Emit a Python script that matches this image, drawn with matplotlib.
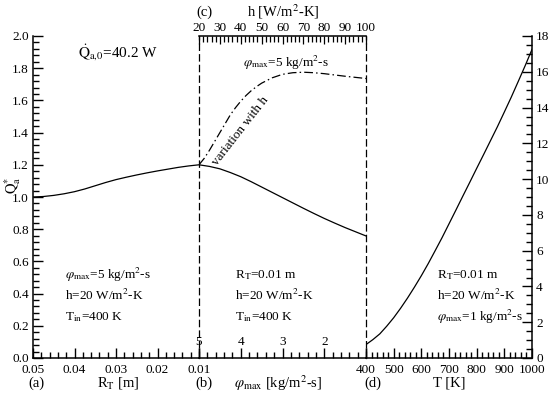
import matplotlib
matplotlib.use("Agg")
import matplotlib.pyplot as plt
from matplotlib.ticker import MultipleLocator, FixedLocator, FixedFormatter, FormatStrFormatter

plt.rcParams['font.family'] = ['Liberation Serif', 'DejaVu Serif']
plt.rcParams['mathtext.fontset'] = 'stix'
plt.rcParams['font.size'] = 9.5

# ---- data ----
# (a) Q* vs tube radius R_T
rt_vals = [0.05, 0.0475, 0.045, 0.0425, 0.04, 0.0375, 0.035, 0.0325, 0.03,
           0.0275, 0.025, 0.0225, 0.02, 0.0175, 0.015, 0.0125, 0.01]
q_rt = [1.0, 1.003, 1.01, 1.02, 1.033, 1.05, 1.07, 1.09, 1.108,
        1.123, 1.137, 1.15, 1.162, 1.173, 1.184, 1.193, 1.2]
# (b) Q* vs phi_max
phi_vals = [5, 4.75, 4.5, 4.25, 4, 3.75, 3.5, 3.25, 3, 2.75, 2.5, 2.25, 2, 1.75, 1.5, 1.25, 1]
q_phi = [1.2, 1.19, 1.175, 1.152, 1.126, 1.095, 1.062, 1.029, 0.996, 0.963,
         0.93, 0.898, 0.867, 0.838, 0.81, 0.784, 0.758]
# (c) Q* vs h (phi_max = 5)
h_vals = [20, 22.5, 25, 27.5, 30, 32.5, 35, 37.5, 40, 42.5, 45, 47.5, 50,
          55, 60, 65, 70, 75, 80, 85, 90, 95, 100]
q_h = [1.2, 1.24, 1.29, 1.345, 1.40, 1.455, 1.51, 1.555, 1.595, 1.63, 1.66, 1.685, 1.707,
       1.74, 1.762, 1.772, 1.775, 1.772, 1.766, 1.758, 1.75, 1.743, 1.736]
# (d) Q* vs inlet temperature T
t_vals = [400, 425, 450, 475, 500, 525, 550, 575, 600, 625, 650, 675, 700,
          725, 750, 775, 800, 825, 850, 875, 900, 925, 950, 975, 1000]
q_t = [0.75, 1.03, 1.35, 1.78, 2.25, 2.78, 3.35, 3.96, 4.6, 5.28, 6.0, 6.73, 7.5,
       8.27, 9.05, 9.82, 10.6, 11.37, 12.15, 12.93, 13.75, 14.58, 15.45, 16.33, 17.25]

phi_ticks = [5, 4, 3, 2, 1]
phi_labels = ['5', '4', '3', '2', '']

W, H = 550, 393
fig = plt.figure(figsize=(W / 100, H / 100), dpi=100)

def fx(px):
    return px / W

def fy(py):
    return 1 - py / H

x0, x1, x2, x3 = 33, 199, 366, 532
ytop, ybot = 36, 358
bb = fy(ybot)
hh = fy(ytop) - fy(ybot)
axa = fig.add_axes([fx(x0), bb, fx(x1) - fx(x0), hh])
axb = fig.add_axes([fx(x1), bb, fx(x2) - fx(x1), hh])
axd = fig.add_axes([fx(x2), bb, fx(x3) - fx(x2), hh])

lw_sp = 1.1
maj_len, min_len = 7, 4

for ax in (axa, axb, axd):
    ax.patch.set_alpha(0)
    for s in ax.spines.values():
        s.set_linewidth(lw_sp)
    ax.spines['top'].set_visible(False)

# ---- panel a ----
axa.plot(rt_vals, q_rt, color='black', lw=0.9)
axa.set_xlim(0.05, 0.01)
axa.set_ylim(0, 2.0)
axa.spines['right'].set_visible(False)
axa.xaxis.set_major_locator(FixedLocator([0.05, 0.04, 0.03, 0.02, 0.01]))
axa.xaxis.set_major_formatter(FixedFormatter(['0.05', '0.04', '0.03', '0.02', '0.01']))
axa.xaxis.set_minor_locator(MultipleLocator(0.002))
axa.yaxis.set_major_locator(MultipleLocator(0.2))
axa.yaxis.set_minor_locator(MultipleLocator(0.04))
axa.yaxis.set_major_formatter(FormatStrFormatter('%.1f'))
axa.tick_params(which='both', direction='in', top=False, right=False, width=1.0)
axa.tick_params(axis='x', pad=4.5)
axa.tick_params(axis='y', pad=3)
axa.tick_params(which='major', length=maj_len)
axa.tick_params(which='minor', length=min_len)

axa.text(0.27, 0.947, r'$\dot{\mathrm{Q}}_{\mathrm{a{,}0}}$=40.2 W', transform=axa.transAxes,
         fontsize=11, ha='left', va='center')
axa.text(0.193, 0.258, r'$\varphi_{\mathrm{max}}$=5 kg/m$^2$-s', transform=axa.transAxes, ha='left', va='center')
axa.text(0.193, 0.193, r'h=20 W/m$^2$-K', transform=axa.transAxes, ha='left', va='center')
axa.text(0.193, 0.127, r'T$_{\mathrm{in}}$=400 K', transform=axa.transAxes, ha='left', va='center')

# ---- panel b ----
axb.plot(phi_vals, q_phi, color='black', lw=0.9)
axb.set_xlim(5, 1)
axb.set_ylim(0, 2.0)
axb.spines['left'].set_linestyle((0, (5, 3.5)))
axb.spines['right'].set_linestyle((0, (5, 3.5)))
axb.spines['left'].set_linewidth(0.9)
axb.spines['right'].set_linewidth(0.9)
axb.yaxis.set_visible(False)
axb.xaxis.set_major_locator(FixedLocator(phi_ticks))
axb.xaxis.set_major_formatter(FixedFormatter(phi_labels))
axb.xaxis.set_minor_locator(MultipleLocator(0.2))
axb.tick_params(axis='x', which='both', direction='in', top=False, width=1.0, pad=-16)
axb.tick_params(axis='x', which='major', length=maj_len)
axb.tick_params(axis='x', which='minor', length=min_len)

axb.text(0.216, 0.258, r'R$_\mathrm{T}$=0.01 m', transform=axb.transAxes, ha='left', va='center')
axb.text(0.216, 0.193, r'h=20 W/m$^2$-K', transform=axb.transAxes, ha='left', va='center')
axb.text(0.216, 0.127, r'T$_{\mathrm{in}}$=400 K', transform=axb.transAxes, ha='left', va='center')

# twin for h
axc = axb.twiny()
axc.patch.set_alpha(0)
axc.plot(h_vals, q_h, color='black', lw=0.9, linestyle=(0, (7, 2.5, 1.2, 2.5)))
axc.set_xlim(20, 100)
for k in ('left', 'right', 'bottom'):
    axc.spines[k].set_visible(False)
axc.spines['top'].set_visible(True)
axc.spines['top'].set_linewidth(lw_sp)
axc.xaxis.set_major_locator(MultipleLocator(10))
axc.xaxis.set_minor_locator(MultipleLocator(2))
axc.tick_params(axis='x', which='both', direction='in', width=0.9, pad=1.5)
axc.tick_params(axis='x', which='major', length=6)
axc.tick_params(axis='x', which='minor', length=4)
axb.text(0.265, 0.916, r'$\varphi_{\mathrm{max}}$=5 kg/m$^2$-s', transform=axb.transAxes, ha='left', va='center')
axb.text(0.25, 0.705, 'variation with h', transform=axb.transAxes, ha='center', va='center',
         rotation=52, fontsize=9.5)

# ---- panel d ----
axd.plot(t_vals, q_t, color='black', lw=0.9)
axd.set_xlim(400, 1000)
axd.set_ylim(0, 18)
axd.spines['left'].set_visible(False)
axd.xaxis.set_major_locator(MultipleLocator(100))
axd.xaxis.set_minor_locator(MultipleLocator(20))
axd.yaxis.set_major_locator(MultipleLocator(2))
axd.yaxis.set_minor_locator(MultipleLocator(0.5))
axd.yaxis.tick_right()
axd.tick_params(which='both', direction='in', top=False, left=False, width=1.0)
axd.tick_params(axis='x', pad=4.5)
axd.tick_params(axis='y', pad=3)
axd.tick_params(which='major', length=maj_len)
axd.tick_params(which='minor', length=min_len)

axd.text(0.428, 0.258, r'R$_\mathrm{T}$=0.01 m', transform=axd.transAxes, ha='left', va='center')
axd.text(0.428, 0.193, r'h=20 W/m$^2$-K', transform=axd.transAxes, ha='left', va='center')
axd.text(0.428, 0.127, r'$\varphi_{\mathrm{max}}$=1 kg/m$^2$-s', transform=axd.transAxes, ha='left', va='center')

# axis titles, panel letters and y label
lab_fs = 10.5
fig.text(fx(36), fy(383), '(a)', ha='center', va='center', fontsize=lab_fs)
fig.text(fx(118), fy(383), r'R$_\mathrm{T}$ [m]', ha='center', va='center', fontsize=lab_fs)
fig.text(fx(204), fy(383), '(b)', ha='center', va='center', fontsize=lab_fs)
fig.text(fx(278), fy(383), r'$\varphi_{\mathrm{max}}$ [kg/m$^2$-s]', ha='center', va='center', fontsize=lab_fs)
fig.text(fx(373), fy(383), '(d)', ha='center', va='center', fontsize=lab_fs)
fig.text(fx(449), fy(383), 'T [K]', ha='center', va='center', fontsize=lab_fs)
fig.text(fx(204), fy(12), '(c)', ha='center', va='center', fontsize=lab_fs)
fig.text(fx(283), fy(12), r'h [W/m$^2$-K]', ha='center', va='center', fontsize=lab_fs)
fig.text(fx(13), fy(185), r'$\mathrm{Q}_{\mathrm{a}}^{*}$', ha='center', va='center', rotation=90, fontsize=lab_fs)

fig.savefig('out.png', dpi=100)
